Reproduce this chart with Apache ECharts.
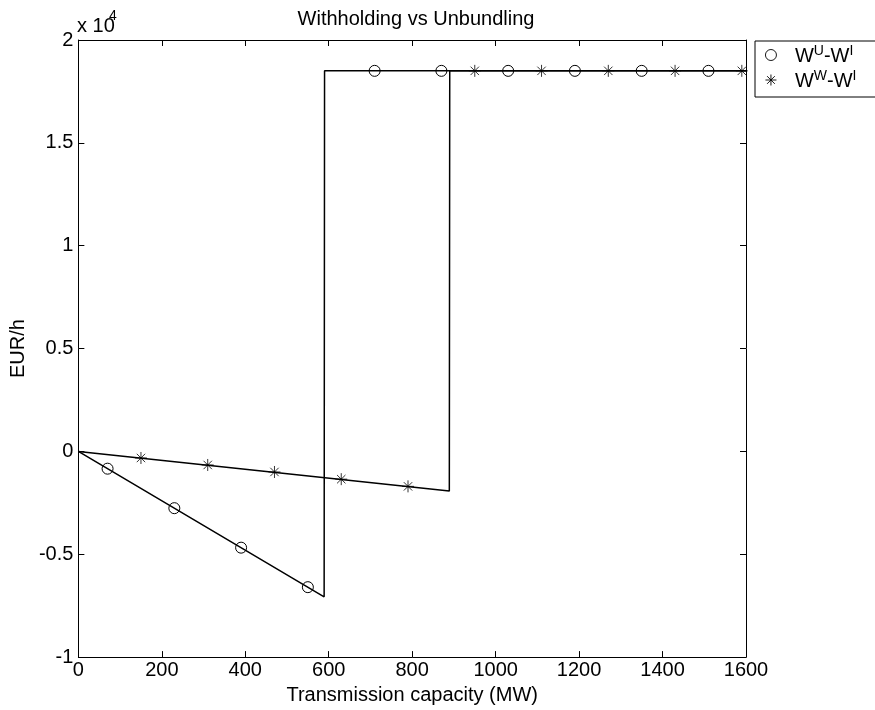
<!DOCTYPE html>
<html>
<head>
<meta charset="utf-8">
<script src="https://cdn.jsdelivr.net/npm/echarts@6/dist/echarts.min.js"></script>
<style>
  html, body { margin: 0; padding: 0; background: #fff; }
  #chart { width: 875px; height: 710px; }
</style>
</head>
<body>
<div id="chart"></div>
<script>
// lines (the step jumps happen just after the last negative point)
var uLineX = [0, 589, 590, 1600];
var uLineY = [0, -7070, 18500, 18500];
var wLineX = [0, 889, 890, 1600];
var wLineY = [0, -1930, 18500, 18500];

// markers, MATLAB style, every 160 MW
var uMarkX = [70, 230, 390, 550, 710, 870, 1030, 1190, 1350, 1510];
var uMarkY = [-840, -2760, -4680, -6600, 18500, 18500, 18500, 18500, 18500, 18500];
var wMarkX = [150, 310, 470, 630, 790, 950, 1110, 1270, 1430, 1590];
var wMarkY = [-320, -660, -1000, -1350, -1700, 18500, 18500, 18500, 18500, 18500];

var FONT = 'Liberation Sans, Arial, sans-serif';
var star = 'path://M0,-1L0,1M-1,0L1,0M-0.7,-0.7L0.7,0.7M-0.7,0.7L0.7,-0.7';

function pairs(xs, ys) {
  return xs.map(function (x, i) { return [x, ys[i]]; });
}

var chart = echarts.init(document.getElementById('chart'));

var boxAxis = {
  axisLine: { show: true, onZero: false, lineStyle: { color: '#000', width: 1 } },
  axisTick: { show: true, inside: true, length: 6, lineStyle: { color: '#000' } },
  splitLine: { show: false }
};

var option = {
  animation: false,
  backgroundColor: '#fff',
  textStyle: { fontFamily: FONT },
  title: {
    text: 'Withholding vs Unbundling',
    left: 411, textAlign: 'center', top: 4,
    textStyle: { fontSize: 20, fontWeight: 'normal', color: '#000', fontFamily: FONT }
  },
  grid: { left: 77, right: 129, top: 40, bottom: 51 },
  legend: {
    left: 755, top: 41,
    orient: 'vertical',
    padding: [3, 30, 6, 10],
    itemGap: 3,
    itemWidth: 30, itemHeight: 11,
    borderColor: '#000', borderWidth: 1,
    backgroundColor: '#fff',
    data: ['u', 'w'],
    itemStyle: { color: 'rgba(0,0,0,0)', borderColor: '#000', borderWidth: 0.9 },
    formatter: function (name) {
      return name === 'u' ? '{b|W}{s|U}{b|-W}{s|I}' : '{b|W}{s|W}{b|-W}{s|I}';
    },
    textStyle: {
      padding: [0, 0, 0, 4],
      rich: {
        b: { fontSize: 20, color: '#000', fontFamily: FONT, verticalAlign: 'bottom', lineHeight: 22 },
        s: { fontSize: 14, color: '#000', fontFamily: FONT, verticalAlign: 'top', lineHeight: 22 }
      }
    }
  },
  graphic: [
    { type: 'text', left: 77, top: 16, style: { text: 'x 10', fontSize: 20, fontFamily: FONT, fill: '#000' } },
    { type: 'text', left: 109, top: 9, style: { text: '4', fontSize: 14, fontFamily: FONT, fill: '#000' } }
  ],
  xAxis: [
    Object.assign({}, boxAxis, {
      type: 'value', min: 0, max: 1600, interval: 200,
      name: 'Transmission capacity (MW)', nameLocation: 'middle', nameGap: 27,
      nameTextStyle: { fontSize: 20, color: '#000', fontFamily: FONT },
      axisLabel: {
        fontSize: 20, color: '#000', margin: 3, fontFamily: FONT,
        formatter: function (v) { return String(v); }
      }
    }),
    Object.assign({}, boxAxis, {
      type: 'value', min: 0, max: 1600, interval: 200, position: 'top',
      axisLabel: { show: false }
    })
  ],
  yAxis: [
    Object.assign({}, boxAxis, {
      type: 'value', min: -10000, max: 20000, interval: 5000,
      name: 'EUR/h', nameLocation: 'middle', nameGap: 45,
      nameTextStyle: { fontSize: 20, color: '#000', fontFamily: FONT },
      axisLabel: {
        fontSize: 20, color: '#000', margin: 5, fontFamily: FONT,
        formatter: function (v) { return String(v / 10000); }
      }
    }),
    Object.assign({}, boxAxis, {
      type: 'value', min: -10000, max: 20000, interval: 5000, position: 'right',
      axisLabel: { show: false }
    })
  ],
  series: [
    {
      type: 'line', name: 'uLine', data: pairs(uLineX, uLineY),
      showSymbol: false, symbol: 'none',
      lineStyle: { color: '#000', width: 1.5 }
    },
    {
      type: 'line', name: 'wLine', data: pairs(wLineX, wLineY),
      showSymbol: false, symbol: 'none',
      lineStyle: { color: '#000', width: 1.5 }
    },
    {
      type: 'scatter', name: 'u', data: pairs(uMarkX, uMarkY),
      symbol: 'circle', symbolSize: 11,
      itemStyle: { color: 'rgba(0,0,0,0)', borderColor: '#000', borderWidth: 1, opacity: 1 }
    },
    {
      type: 'scatter', name: 'w', data: pairs(wMarkX, wMarkY),
      symbol: star, symbolSize: 12, symbolKeepAspect: true,
      itemStyle: { color: 'rgba(0,0,0,0)', borderColor: '#000', borderWidth: 0.8, opacity: 1 }
    }
  ]
};

chart.setOption(option);
</script>
</body>
</html>
